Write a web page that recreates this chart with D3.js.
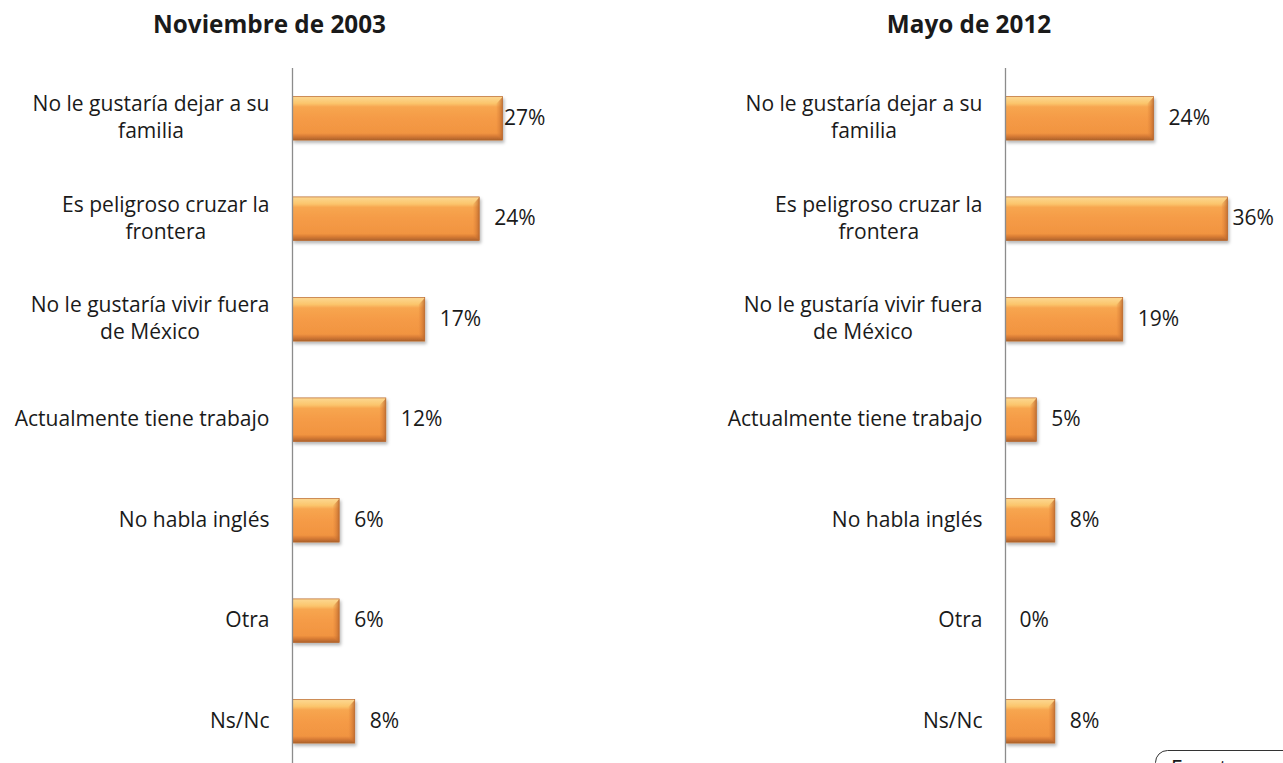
<!DOCTYPE html>
<html><head><meta charset="utf-8">
<script src="https://cdn.jsdelivr.net/npm/d3@7"></script>
<style>
html,body{margin:0;padding:0;background:#fff;overflow:hidden}
text{font-family:"Open Sans",sans-serif}
</style></head>
<body><svg id="c" width="1283" height="763"></svg>
<script>
const categories = [
  "No le gustaría dejar a su|familia",
  "Es peligroso cruzar la|frontera",
  "No le gustaría vivir fuera|de México",
  "Actualmente tiene trabajo",
  "No habla inglés",
  "Otra",
  "Ns/Nc"
];
const values2003 = [27, 24, 17, 12, 6, 6, 8];
const values2012 = [24, 36, 19, 5, 8, 0, 8];
const titles = ["Noviembre de 2003", "Mayo de 2012"];
const sourceText = "Fuente: encuesta telefónica";

const svg = d3.select("#c");

function fitSize(str, weight, target) {
  const t = svg.append("text").attr("font-size", 20).attr("font-weight", weight).text(str);
  const w = t.node().getComputedTextLength();
  t.remove();
  return 20 * target / w;
}
const catSize = fitSize("Actualmente tiene trabajo", "normal", 255);
const titleSize = fitSize("Noviembre de 2003", "bold", 233);
const valSize = catSize;

const defs = svg.append("defs");
const g1 = defs.append("linearGradient").attr("id","barGrad").attr("x1",0).attr("y1",0).attr("x2",0).attr("y2",1);
[[0,"#fbd28c"],[0.04,"#fcd489"],[0.16,"#fbc56c"],[0.24,"#f7a650"],[0.5,"#f59b46"],[0.84,"#f19441"],[0.9,"#dc7f36"],[0.96,"#c06d30"],[1,"#a95f2a"]]
  .forEach(([o,c])=>g1.append("stop").attr("offset",o).attr("stop-color",c));
const g2 = defs.append("linearGradient").attr("id","sideGrad").attr("x1",0).attr("y1",0).attr("x2",1).attr("y2",0);
[[0,"#e8893c",0.2],[1,"#b9662c",0.85]].forEach(([o,c,a])=>g2.append("stop").attr("offset",o).attr("stop-color",c).attr("stop-opacity",a));
const f = defs.append("filter").attr("id","shadow").attr("x","-10%").attr("y","-20%").attr("width","130%").attr("height","160%");
f.append("feDropShadow").attr("dx",1.5).attr("dy",2.5).attr("stdDeviation",1.8).attr("flood-color","#000").attr("flood-opacity",0.28);

const panels = [
  {title: titles[0], values: values2003, axisX: 292.5, pxPer: 7.78, plotRight: 541, titleX: 269.5},
  {title: titles[1], values: values2012, axisX: 1005.5, pxPer: 6.17, plotRight: 1274, titleX: 969}
];

panels.forEach(p => {
  const y = d3.scaleBand().domain(categories).range([68, 771.5]).paddingInner(0.565).paddingOuter(0.2825);
  const x = d3.scaleLinear().domain([0, 1]).range([p.axisX, p.axisX + p.pxPer]);
  const g = svg.append("g");

  g.append("text").attr("x", p.titleX).attr("y", 33).attr("text-anchor","middle")
    .attr("font-size", titleSize).attr("font-weight","bold").attr("fill","#1a1a1a").text(p.title);

  // bars
  const bars = g.selectAll(".bar").data(categories).join("g");
  bars.each(function(c, i){
    const v = p.values[i];
    if (v <= 0) return;
    const x0 = x(0), x1 = x(v), y0 = y(c), h = y.bandwidth();
    const b = d3.select(this);
    b.append("rect").attr("x", x0).attr("y", y0).attr("width", x1 - x0).attr("height", h)
      .attr("fill","url(#barGrad)").attr("stroke","#b8692f").attr("stroke-width",0.7).attr("filter","url(#shadow)");
    const bw = Math.min(6, (x1-x0)/4);
    b.append("path").attr("d", `M${x1-bw},${y0+7}L${x1},${y0+0.5}L${x1},${y0+h-0.5}L${x1-bw},${y0+h-5}Z`).attr("fill","url(#sideGrad)");
  });

  // axis line
  const yAxis = d3.axisLeft(y).tickSize(0).tickFormat("");
  const ax = g.append("g").attr("transform", `translate(${p.axisX},0)`).call(yAxis);
  ax.select(".domain").attr("stroke","#8c8c8c").attr("stroke-width",1.3).attr("d", `M0,68V763`);

  // category labels (multi-line labels centered within their block, block right-aligned)
  categories.forEach(c => {
    const lines = c.split("|");
    const cy = y(c) + y.bandwidth()/2;
    const lh = 26.6;
    const t = g.append("text").attr("font-size",catSize).attr("fill","#1a1a1a");
    const spans = lines.map((ln, k) => t.append("tspan")
        .attr("y", cy + 6.5 + (k - (lines.length-1)/2) * lh).text(ln));
    const widths = spans.map(s => s.node().getComputedTextLength());
    const W = d3.max(widths);
    const right = p.axisX - 23;
    const center = right - W/2;
    if (lines.length === 1) { spans[0].attr("x", right).attr("text-anchor","end"); }
    else spans.forEach(s => s.attr("x", center).attr("text-anchor","middle"));
  });

  // value labels
  categories.forEach((c, i) => {
    const v = p.values[i];
    const cy = y(c) + y.bandwidth()/2;
    const t = g.append("text").attr("font-size",valSize).attr("fill","#1a1a1a").attr("y", cy + 6.5).text(v + "%");
    const w = t.node().getComputedTextLength();
    let lx = x(v) + (v > 0 ? 15 : 14);
    if (lx + w > p.plotRight) lx = Math.max(x(v) + 1.5, p.plotRight - w);
    t.attr("x", lx);
  });
});

// source box (partially clipped by the page edge, as in the reference)
svg.append("rect").attr("x", 1155.5).attr("y", 750.5).attr("width", 200).attr("height", 40).attr("rx", 12)
  .attr("fill","#fff").attr("stroke","#333").attr("stroke-width",1);
svg.append("text").attr("x", 1171).attr("y", 776).attr("font-size", catSize).attr("fill","#1a1a1a").text(sourceText);
</script></body></html>
